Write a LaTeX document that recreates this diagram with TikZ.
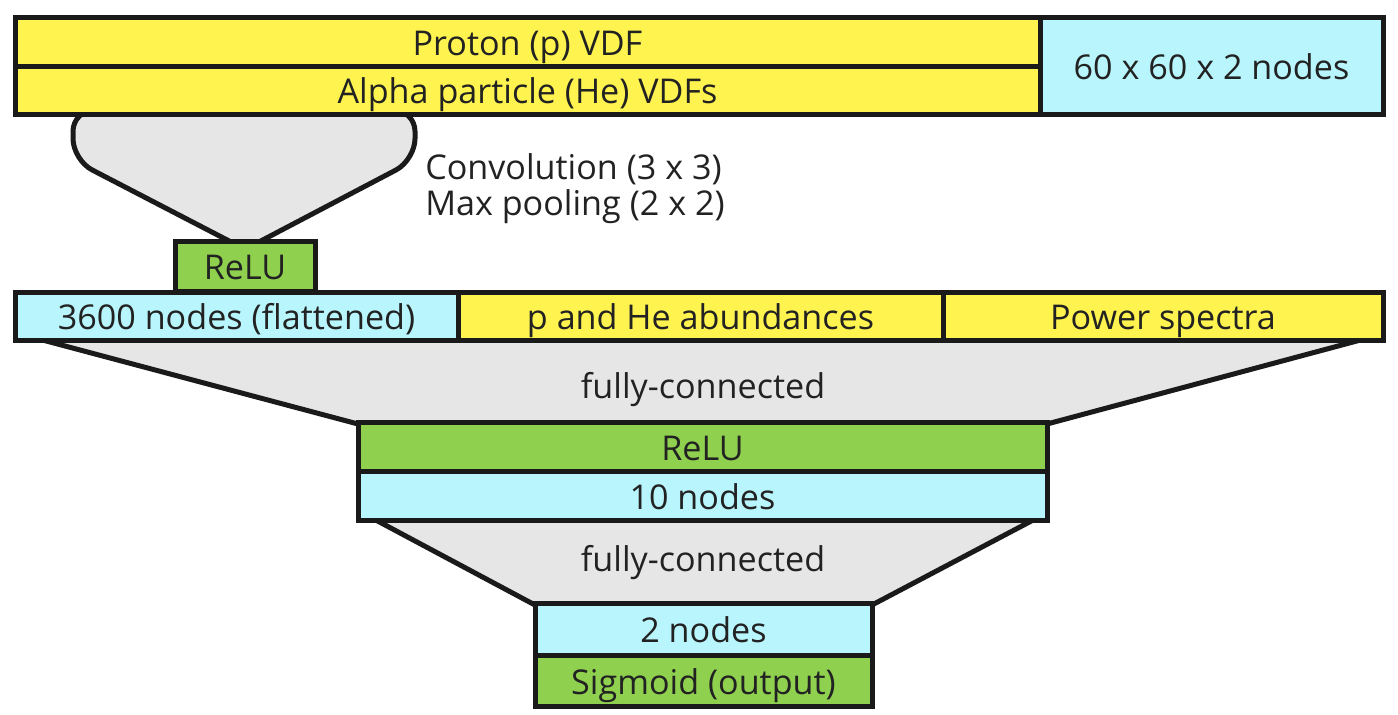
\documentclass[tikz,border=0pt]{standalone}
\usepackage{fontspec}
\setmainfont{Open Sans}
\usetikzlibrary{calc}
\definecolor{cyel}{RGB}{255,244,79}
\definecolor{ccyan}{RGB}{184,245,252}
\definecolor{cgreen}{RGB}{143,209,79}
\definecolor{cgray}{RGB}{230,230,230}
\definecolor{cline}{RGB}{26,26,26}
\definecolor{ctext}{RGB}{34,34,34}
\begin{document}
\begin{tikzpicture}[x=0.75pt,y=-0.75pt,
  lay/.style={draw=cline,line width=3.75pt,inner sep=0pt,outer sep=0pt,
    text=ctext,font=\fontsize{25.6}{30}\selectfont,rectangle,
    text height=20.5pt,text depth=0pt},
  yel/.style={lay,fill=cyel},
  cya/.style={lay,fill=ccyan},
  grn/.style={lay,fill=cgreen},
  funnel/.style={draw=cline,fill=cgray,line width=3.75pt,line join=round},
  lbl/.style={text=ctext,font=\fontsize{25.6}{30}\selectfont,inner sep=0pt},
  sidelbl/.style={text=ctext,font=\fontsize{25.6}{30}\selectfont,inner sep=0pt}]
\useasboundingbox (0,0) rectangle (1398,714);
% nodes
\node[yel,minimum width=1025*0.75pt,minimum height=49*0.75pt] (proton) at (527.5,41.5) {Proton (p) VDF};
\node[yel,minimum width=1025*0.75pt,minimum height=48*0.75pt] (alpha) at (527.5,90) {Alpha particle (He) VDFs};
\node[cya,minimum width=343*0.75pt,minimum height=97*0.75pt] (in60) at (1211.5,65.5) {60 x 60 x 2 nodes};
\node[grn,minimum width=140*0.75pt,minimum height=50*0.75pt] (relu1) at (245,266) {ReLU};
\node[cya,minimum width=443*0.75pt,minimum height=48*0.75pt] (flat) at (236.5,316) {3600 nodes (flattened)};
\node[yel,minimum width=485*0.75pt,minimum height=48*0.75pt] (abund) at (700.5,316) {p and He abundances};
\node[yel,minimum width=440*0.75pt,minimum height=48*0.75pt] (power) at (1163,316) {Power spectra};
\node[grn,minimum width=689*0.75pt,minimum height=49*0.75pt] (relu2) at (702.5,446.5) {ReLU};
\node[cya,minimum width=689*0.75pt,minimum height=49*0.75pt] (ten) at (702.5,495.5) {10 nodes};
\node[cya,minimum width=337*0.75pt,minimum height=52*0.75pt] (two) at (703.5,629) {2 nodes};
\node[grn,minimum width=337*0.75pt,minimum height=51*0.75pt] (sig) at (703.5,680.5) {Sigmoid (output)};
% funnels
\draw[funnel,rounded corners=16pt] ($(relu1.north west)+(58,2)$) -- (73,160) -- (73,110) -- (415,110) -- (415,160) -- ($(relu1.north west)+(82,2)$);
\draw[funnel] ($(flat.south west)+(20,-2)$) -- ($(relu2.north west)+(0,2)$) -- ($(relu2.north east)+(0,2)$) -- ($(power.south east)+(-15,-2)$);
\draw[funnel] ($(ten.south west)+(14,-2)$) -- ($(two.north west)+(0,2)$) -- ($(two.north east)+(0,2)$) -- ($(ten.south east)+(-10,-2)$);
% boxes drawn again over the funnels
\node[yel,minimum width=1025*0.75pt,minimum height=48*0.75pt] at (alpha) {Alpha particle (He) VDFs};
\node[grn,minimum width=140*0.75pt,minimum height=50*0.75pt] at (relu1) {ReLU};
\node[cya,minimum width=443*0.75pt,minimum height=48*0.75pt] at (flat) {3600 nodes (flattened)};
\node[yel,minimum width=485*0.75pt,minimum height=48*0.75pt] at (abund) {p and He abundances};
\node[yel,minimum width=440*0.75pt,minimum height=48*0.75pt] at (power) {Power spectra};
\node[grn,minimum width=689*0.75pt,minimum height=49*0.75pt] at (relu2) {ReLU};
\node[cya,minimum width=689*0.75pt,minimum height=49*0.75pt] at (ten) {10 nodes};
\node[cya,minimum width=337*0.75pt,minimum height=52*0.75pt] at (two) {2 nodes};
% labels
\node[sidelbl,anchor=west] (conv) at (425,169) {Convolution (3 x 3)};
\node[sidelbl,anchor=west] (pool) at (425,207) {Max pooling (2 x 2)};
\node[lbl] (fc1) at (703,390) {fully-connected};
\node[lbl] (fc2) at (703,563) {fully-connected};
\end{tikzpicture}
\end{document}
